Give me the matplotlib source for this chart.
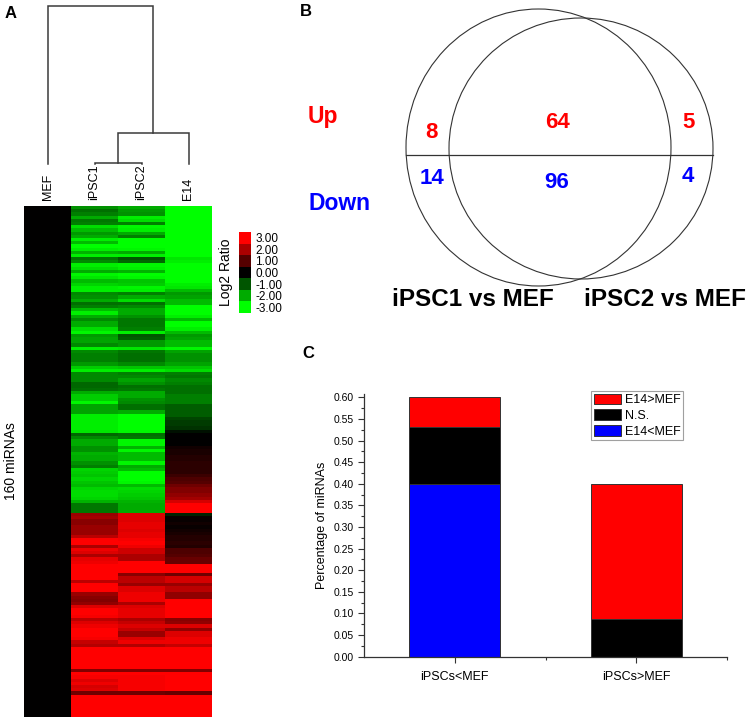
import numpy as np
import matplotlib
matplotlib.use("Agg")
import matplotlib.pyplot as plt
from matplotlib.colors import LinearSegmentedColormap
from matplotlib.patches import Ellipse
from matplotlib.ticker import MultipleLocator, FixedLocator

plt.rcParams['font.family'] = ['Liberation Sans', 'DejaVu Sans']

# ---------------- Data ----------------
samples = ['MEF', 'iPSC1', 'iPSC2', 'E14']

mef = [0.0] * 160

ipsc1 = [
    -1.7, -1.3, -1.5, -2.0, -1.4, -1.5, -2.6, -2.2, -1.8, -2.0,
    -2.8, -2.2, -3.0, -2.8, -2.1, -2.8, -1.4, -1.6, -2.8, -2.6,
    -2.0, -2.9, -2.7, -2.2, -2.5, -2.8, -2.8, -1.6, -1.7, -2.0,
    -1.3, -1.5, -2.2, -2.8, -2.0, -1.6, -2.0, -2.0, -2.6, -2.9,
    -1.8, -1.9, -1.9, -1.6, -2.8, -1.6, -1.5, -1.5, -1.5, -1.8,
    -2.4, -2.8, -1.6, -1.6, -1.6, -1.2, -1.2, -1.3, -2.0, -2.4,
    -2.4, -2.9, -1.9, -1.9, -1.9, -2.8, -2.8, -2.8, -2.8, -2.8,
    -2.7, -1.2, -1.6, -2.0, -2.0, -1.7, -1.7, -2.1, -2.0, -2.0,
    -1.7, -1.5, -2.5, -2.4, -2.3, -2.5, -2.3, -2.2, -2.5, -2.6,
    -2.6, -2.5, -2.1, -1.4, -1.4, -1.4, 1.8, 1.9, 1.6, 1.6,
    1.8, 1.8, 1.8, 2.2, 3.0, 3.0, 2.0, 2.8, 2.6, 2.0,
    2.7, 2.8, 3.0, 3.0, 3.0, 3.0, 3.0, 2.2, 3.0, 3.0,
    3.0, 1.8, 1.6, 1.5, 1.7, 2.6, 3.0, 3.0, 2.9, 2.2,
    2.6, 2.8, 3.0, 3.0, 3.0, 2.9, 2.3, 2.1, 3.0, 3.0,
    3.0, 3.0, 3.0, 3.0, 3.0, 1.5, 3.0, 2.9, 2.6, 2.8,
    2.5, 2.6, 1.3, 3.0, 3.0, 3.0, 3.0, 3.0, 3.0, 3.0,
]

ipsc2 = [
    -2.0, -1.8, -1.7, -2.8, -2.6, -1.5, -2.9, -2.8, -2.0, -1.5,
    -3.0, -3.0, -3.0, -2.9, -2.0, -2.8, -1.0, -1.2, -2.9, -2.8,
    -2.1, -3.0, -2.9, -2.3, -2.4, -2.9, -2.8, -1.5, -2.0, -2.6,
    -1.3, -1.6, -2.0, -2.0, -1.7, -1.4, -1.4, -1.4, -1.5, -2.8,
    -1.0, -1.1, -1.8, -1.8, -2.7, -1.4, -1.3, -1.3, -1.3, -1.6,
    -2.3, -2.8, -1.5, -1.6, -1.9, -1.7, -1.3, -1.4, -2.0, -2.0,
    -1.7, -1.6, -1.3, -1.3, -2.0, -3.0, -3.0, -3.0, -3.0, -3.0,
    -2.9, -1.3, -1.4, -2.9, -2.9, -2.1, -2.9, -2.2, -2.2, -2.2,
    -2.9, -2.0, -2.2, -3.0, -3.0, -3.0, -2.9, -2.2, -2.6, -2.5,
    -2.4, -2.3, -2.1, -2.0, -2.0, -2.0, 2.6, 2.6, 2.6, 2.7,
    2.7, 2.6, 2.7, 2.7, 2.9, 3.0, 2.8, 2.4, 2.4, 2.0,
    2.0, 3.0, 3.0, 3.0, 3.0, 1.6, 2.2, 2.2, 1.8, 2.6,
    2.6, 2.8, 2.8, 2.8, 2.0, 2.6, 2.7, 2.7, 2.7, 2.0,
    2.3, 2.6, 2.3, 1.8, 1.8, 2.6, 2.8, 2.1, 3.0, 3.0,
    3.0, 3.0, 3.0, 3.0, 3.0, 1.5, 3.0, 2.9, 2.9, 2.9,
    2.9, 2.9, 1.3, 3.0, 3.0, 3.0, 3.0, 3.0, 3.0, 3.0,
]

e14 = [
    -3.0, -3.0, -3.0, -3.0, -3.0, -3.0, -3.0, -3.0, -3.0, -3.0,
    -3.0, -3.0, -3.0, -3.0, -3.0, -3.0, -2.7, -2.8, -3.0, -3.0,
    -3.0, -3.0, -3.0, -3.0, -2.8, -2.7, -2.2, -1.8, -1.9, -2.2,
    -2.2, -3.0, -3.0, -3.0, -2.8, -2.2, -3.0, -3.0, -2.8, -2.2,
    -1.8, -1.9, -2.2, -2.2, -2.9, -1.9, -1.7, -1.7, -1.7, -1.9,
    -2.3, -2.6, -1.5, -1.4, -1.6, -1.5, -1.3, -1.3, -1.3, -1.5,
    -1.5, -1.5, -1.1, -1.1, -1.1, -1.1, -0.8, -0.7, -0.7, -0.6,
    -0.2, 0.0, 0.0, 0.0, 0.0, 0.2, 0.3, 0.3, 0.4, 0.4,
    0.5, 0.5, 0.5, 0.5, 0.7, 0.9, 1.0, 1.3, 1.5, 1.5,
    1.7, 1.9, 2.5, 3.0, 3.0, 3.0, -0.4, 0.1, 0.1, 0.2,
    0.1, 0.2, 0.3, 0.4, 0.4, 0.5, 0.4, 0.9, 0.9, 1.0,
    1.2, 1.2, 3.0, 3.0, 3.0, 1.3, 2.5, 2.5, 1.8, 2.2,
    2.2, 1.7, 1.7, 3.0, 3.0, 3.0, 3.0, 3.0, 3.0, 1.6,
    1.7, 2.6, 1.7, 2.6, 2.6, 2.8, 2.8, 2.3, 3.0, 3.0,
    3.0, 3.0, 3.0, 3.0, 3.0, 1.5, 3.0, 3.0, 3.0, 3.0,
    3.0, 3.0, 1.2, 3.0, 3.0, 3.0, 3.0, 3.0, 3.0, 3.0,
]

# dendrogram merges: (left member, right member, height)
dendro_merges = [('iPSC1', 'iPSC2', 0.1), ('iPSC1+iPSC2', 'E14', 3.1), ('MEF', 'iPSC1+iPSC2+E14', 15.8)]

legend_levels = [3.0, 2.0, 1.0, 0.0, -1.0, -2.0, -3.0]

venn_sets = ['iPSC1 vs MEF', 'iPSC2 vs MEF']
venn_up = [8, 64, 5]
venn_down = [14, 96, 4]

bar_categories = ['iPSCs<MEF', 'iPSCs>MEF']
e14_lt_mef = [0.400, 0.0]
ns_vals = [0.13125, 0.0875]
e14_gt_mef = [0.06875, 0.3125]

# ---------------- Figure ----------------
W, H = 749, 721
fig = plt.figure(figsize=(W / 100, H / 100), dpi=100)


def px_axes(x0, y0, x1, y1):
    return fig.add_axes([x0 / W, 1 - y1 / H, (x1 - x0) / W, (y1 - y0) / H])


cmap = LinearSegmentedColormap.from_list('gkr', [(0, '#00ff00'), (0.5, '#000000'), (1, '#ff0000')])

# Heatmap
ax_h = px_axes(24, 206, 212, 717)
data = np.column_stack([mef, ipsc1, ipsc2, e14])
ax_h.imshow(data, cmap=cmap, vmin=-3, vmax=3, aspect='auto', interpolation='nearest')
ax_h.xaxis.tick_top()
ax_h.set_xticks(range(len(samples)))
ax_h.set_xticklabels(samples, rotation=90, fontsize=9)
ax_h.tick_params(axis='x', length=0, pad=4)
ax_h.set_yticks([])
for s in ax_h.spines.values():
    s.set_visible(False)
ax_h.set_ylabel('160 miRNAs', fontsize=10, labelpad=4)

# Dendrogram
ax_d = px_axes(24, 6, 212, 164)
ax_d.set_xlim(-0.5, 3.5)
ax_d.set_ylim(0, 15.8)
ax_d.axis('off')
pos = {name: (i, 0.0) for i, name in enumerate(samples)}
for a, b, h in dendro_merges:
    xa, ha = pos[a]
    xb, hb = pos[b]
    ax_d.plot([xa, xa, xb, xb], [ha, h, h, hb], color='#3a3a3a', lw=1.1, clip_on=False,
              solid_joinstyle='miter')
    pos[a + '+' + b] = ((xa + xb) / 2, h)

# Colour legend
ax_c = px_axes(239, 232, 251, 313)
ax_c.imshow(np.array(legend_levels).reshape(-1, 1), cmap=cmap, vmin=-3, vmax=3, aspect='auto',
            interpolation='nearest')
ax_c.set_xticks([])
ax_c.yaxis.tick_right()
ax_c.set_yticks(range(len(legend_levels)))
ax_c.set_yticklabels([f'{v:.2f}' for v in legend_levels], fontsize=8.5)
ax_c.tick_params(axis='y', length=0, pad=3)
for s in ax_c.spines.values():
    s.set_visible(False)
ax_c.set_ylabel('Log2 Ratio', fontsize=10, labelpad=4)

fig.text(5 / W, 1 - 13 / H, 'A', fontsize=12, fontweight='bold', va='center', ha='left')
fig.text(300 / W, 1 - 12 / H, 'B', fontsize=12, fontweight='bold', va='center', ha='left')
fig.text(302 / W, 1 - 354 / H, 'C', fontsize=12, fontweight='bold', va='center', ha='left')

# Venn
ax_v = px_axes(300, 0, 749, 330)
ax_v.set_xlim(0, 449)
ax_v.set_ylim(330, 0)
ax_v.axis('off')
ax_v.add_patch(Ellipse((238.5, 147.5), 265, 277, fill=False, ec='#333333', lw=0.8))
ax_v.add_patch(Ellipse((281, 148.5), 264, 261, fill=False, ec='#333333', lw=0.8))
ax_v.plot([106, 413], [155, 155], color='#333333', lw=0.9)
ax_v.text(23, 117, 'Up', color='#ff0000', fontsize=16.5, fontweight='bold', ha='center', va='center')
ax_v.text(40, 203, 'Down', color='#0000ff', fontsize=16.5, fontweight='bold', ha='center', va='center')
up_pos = [(131, 132), (257, 122), (389, 123)]
down_pos = [(132, 178), (257, 182), (388, 177)]
for v, (x, y) in zip(venn_up, up_pos):
    ax_v.text(x, y, str(v), color='#ff0000', fontsize=16, fontweight='bold', ha='center', va='center')
for v, (x, y) in zip(venn_down, down_pos):
    ax_v.text(x, y, str(v), color='#0000ff', fontsize=16, fontweight='bold', ha='center', va='center')
ax_v.text(173, 300, venn_sets[0], fontsize=17.5, fontweight='bold', ha='center', va='center')
ax_v.text(365, 300, venn_sets[1], fontsize=17.5, fontweight='bold', ha='center', va='center')

# Stacked bar chart
ax_b = px_axes(364, 394, 727, 656.7)
x = np.arange(1, len(bar_categories) + 1)
bw = 0.5
ec = '#333333'
b1 = ax_b.bar(x, e14_lt_mef, bw, color='#0000ff', edgecolor=ec, lw=0.7, label='E14<MEF')
b2 = ax_b.bar(x, ns_vals, bw, bottom=e14_lt_mef, color='#000000', edgecolor=ec, lw=0.7, label='N.S.')
bottom2 = np.array(e14_lt_mef) + np.array(ns_vals)
b3 = ax_b.bar(x, e14_gt_mef, bw, bottom=bottom2, color='#ff0000', edgecolor=ec, lw=0.7, label='E14>MEF')
ax_b.set_xlim(0.5, 2.5)
ax_b.set_ylim(0, 0.6076)
ax_b.spines['top'].set_visible(False)
ax_b.spines['right'].set_visible(False)
for s in ['left', 'bottom']:
    ax_b.spines[s].set_color('#333333')
    ax_b.spines[s].set_linewidth(0.9)
ax_b.set_yticks(np.arange(0, 0.601, 0.05))
ax_b.set_yticklabels([f'{v:.2f}' for v in np.arange(0, 0.601, 0.05)], fontsize=7.5)
ax_b.yaxis.set_minor_locator(MultipleLocator(0.025))
ax_b.set_xticks(x)
ax_b.set_xticklabels(bar_categories, fontsize=9)
ax_b.xaxis.set_minor_locator(FixedLocator([1.5, 2.5]))
ax_b.tick_params(axis='both', which='major', direction='out', length=4, width=0.8, color='#333333')
ax_b.tick_params(axis='both', which='minor', direction='out', length=2.5, width=0.8, color='#333333')
ax_b.tick_params(axis='x', which='major', pad=6)
ax_b.set_ylabel('Percentage of miRNAs', fontsize=9, labelpad=4)
leg = ax_b.legend(handles=[b3, b2, b1], loc='upper right', bbox_to_anchor=(683 / W, 1 - 391 / H),
                  bbox_transform=fig.transFigure, fontsize=9, frameon=True, fancybox=False,
                  edgecolor='#888888', handlelength=2.2, handleheight=0.95, labelspacing=0.25,
                  borderpad=0.2, handletextpad=0.3, borderaxespad=0)
leg.get_frame().set_linewidth(0.8)

fig.savefig('out.png', dpi=100)
